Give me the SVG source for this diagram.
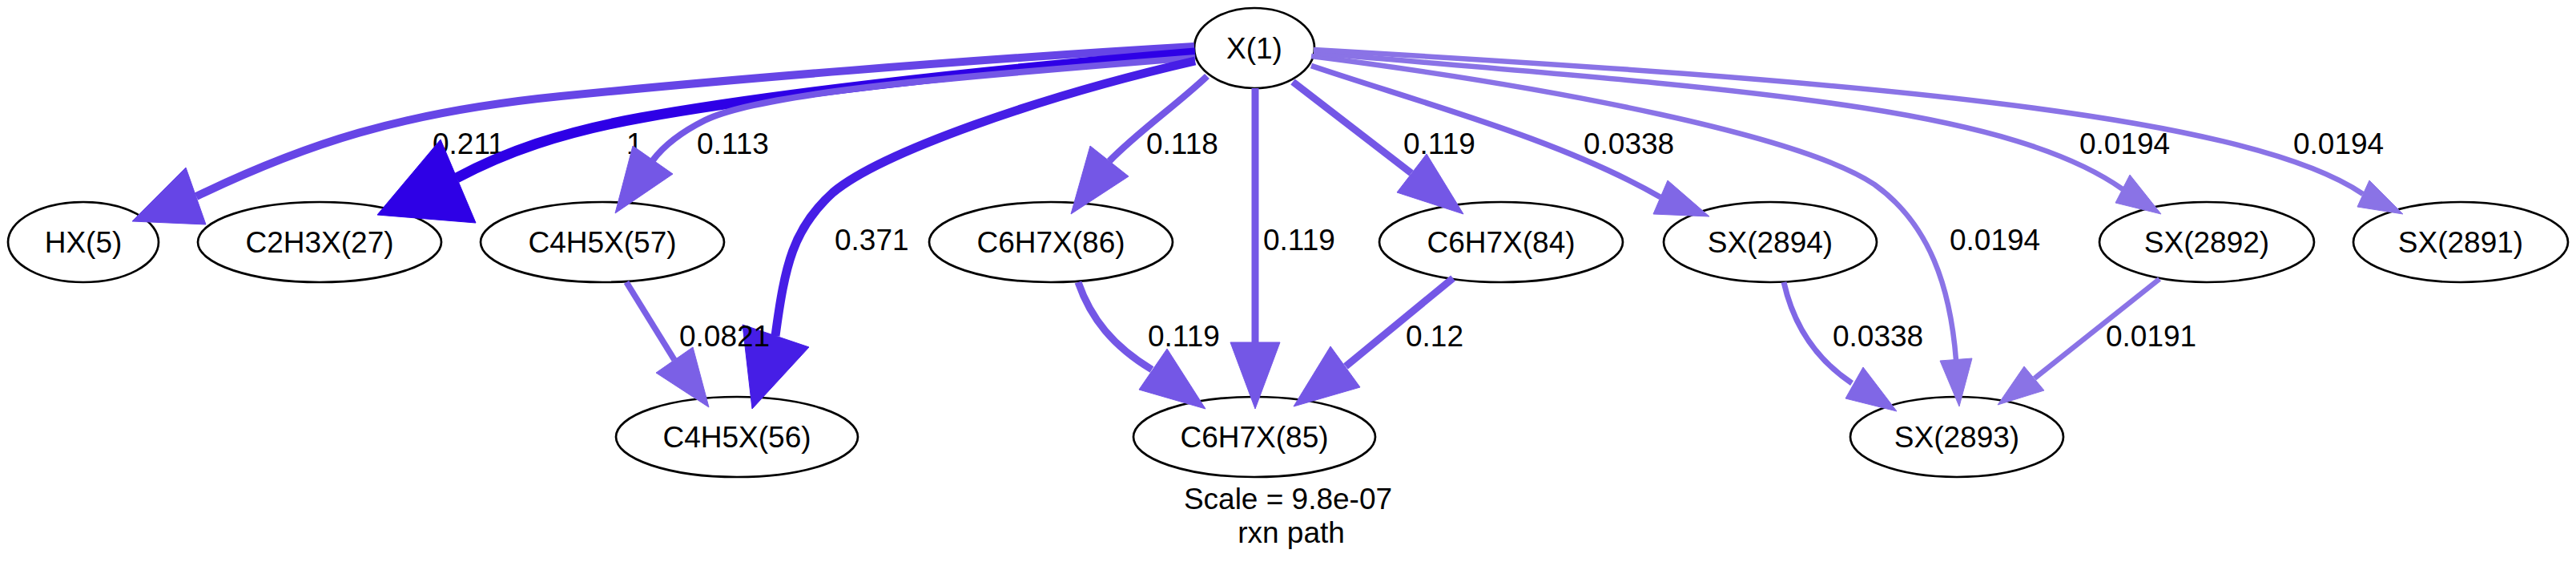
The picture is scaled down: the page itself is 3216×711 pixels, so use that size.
<svg xmlns="http://www.w3.org/2000/svg" width="3216" height="711" viewBox="0 0 3216 711">
<style>
.n ellipse{fill:#fff;stroke:#000;stroke-width:2.7}
.n text{font-family:"Liberation Sans",Arial,sans-serif;font-size:37px;text-anchor:middle;fill:#000}
.e path{fill:none;stroke-linecap:butt}
.lbl{font-family:"Liberation Sans",Arial,sans-serif;font-size:37px;fill:#000}
.ttl{font-family:"Liberation Sans",Arial,sans-serif;font-size:37px;fill:#000;text-anchor:middle}
.c1{stroke:#2e00e6;fill:#2e00e6}
.c371{stroke:#461ee6;fill:#461ee6}
.c211{stroke:#6645e6;fill:#6645e6}
.c11{stroke:#7457e6;fill:#7457e6}
.c08{stroke:#7b60e6;fill:#7b60e6}
.c03{stroke:#8067e6;fill:#8067e6}
.c019{stroke:#8a73e6;fill:#8a73e6}
polygon{stroke:none}
</style>
<rect width="3216" height="711" fill="#fff"/>
<g id="nodes">
<g id="X1" class="n"><ellipse cx="1566" cy="60" rx="75" ry="50"/><text x="1566" y="73">X(1)</text></g>
<g id="HX5" class="n"><ellipse cx="104" cy="302" rx="94" ry="50"/><text x="104" y="315">HX(5)</text></g>
<g id="C2H3X27" class="n"><ellipse cx="399" cy="302" rx="152" ry="50"/><text x="399" y="315">C2H3X(27)</text></g>
<g id="C4H5X57" class="n"><ellipse cx="752" cy="302" rx="152" ry="50"/><text x="752" y="315">C4H5X(57)</text></g>
<g id="C6H7X86" class="n"><ellipse cx="1312" cy="302" rx="152" ry="50"/><text x="1312" y="315">C6H7X(86)</text></g>
<g id="C6H7X84" class="n"><ellipse cx="1874" cy="302" rx="152" ry="50"/><text x="1874" y="315">C6H7X(84)</text></g>
<g id="SX2894" class="n"><ellipse cx="2210" cy="302" rx="133" ry="50"/><text x="2210" y="315">SX(2894)</text></g>
<g id="SX2892" class="n"><ellipse cx="2755" cy="302" rx="134" ry="50"/><text x="2755" y="315">SX(2892)</text></g>
<g id="SX2891" class="n"><ellipse cx="3072" cy="302" rx="134" ry="50"/><text x="3072" y="315">SX(2891)</text></g>
<g id="C4H5X56" class="n"><ellipse cx="920" cy="545" rx="151" ry="50"/><text x="920" y="558">C4H5X(56)</text></g>
<g id="C6H7X85" class="n"><ellipse cx="1566" cy="545" rx="151" ry="50"/><text x="1566" y="558">C6H7X(85)</text></g>
<g id="SX2893" class="n"><ellipse cx="2443" cy="545" rx="133" ry="50"/><text x="2443" y="558">SX(2893)</text></g>
</g>
<g id="connectors">
<g class="e"><path class="c211" stroke-width="10" d="M1491,58 C1200,75 900,100 700,120 C500,140 380,180 245,245"/><polygon class="c211" points="232,209 257,280 165,276"/><text class="lbl" x="540" y="192">0.211</text></g>
<g class="e"><path class="c1" stroke-width="13" d="M1492,66 C1200,90 950,120 800,147 C700,165 630,190 570,222"/><polygon class="c1" points="550,174 594,278 471,268"/><text class="lbl" x="782" y="192">1</text></g>
<g class="e"><path class="c11" stroke-width="8" d="M1492,72 C1200,95 950,115 880,150 C850,165 830,180 815,200"/><polygon class="c11" points="790,182 840,217 768,266"/><text class="lbl" x="870" y="192">0.113</text></g>
<g class="e"><path class="c371" stroke-width="11" d="M1492,76 C1300,120 1100,190 1040,240 C990,285 980,330 968,419"/><polygon class="c371" points="927,405 1010,433 939,510"/><text class="lbl" x="1042" y="312">0.371</text></g>
<g class="e"><path class="c11" stroke-width="8.5" d="M1507,95 C1470,130 1420,165 1385,201"/><polygon class="c11" points="1361,182 1409,220 1337,267"/><text class="lbl" x="1431" y="192">0.118</text></g>
<g class="e"><path class="c11" stroke-width="9" d="M1567,110 L1567,428"/><polygon class="c11" points="1536,427 1598,427 1567,510"/><text class="lbl" x="1577" y="312">0.119</text></g>
<g class="e"><path class="c11" stroke-width="9" d="M1614,102 L1762,216"/><polygon class="c11" points="1744,240 1781,192 1827,267"/><text class="lbl" x="1752" y="192">0.119</text></g>
<g class="e"><path class="c03" stroke-width="7" d="M1637,82 C1780,130 1950,175 2073,246"/><polygon class="c03" points="2082,225 2064,267 2134,270"/><text class="lbl" x="1977" y="192">0.0338</text></g>
<g class="e"><path class="c019" stroke-width="6.5" d="M1637,70 C1950,110 2250,170 2340,230 C2410,280 2435,360 2442,449"/><polygon class="c019" points="2422,450 2462,447 2446,507"/><text class="lbl" x="2434" y="312">0.0194</text></g>
<g class="e"><path class="c019" stroke-width="6.5" d="M1640,66 C2150,110 2500,130 2650,236"/><polygon class="c019" points="2659,218 2641,253 2698,267"/><text class="lbl" x="2596" y="192">0.0194</text></g>
<g class="e"><path class="c019" stroke-width="6.5" d="M1640,62 C2300,100 2800,140 2950,242"/><polygon class="c019" points="2958,225 2943,258 3000,267"/><text class="lbl" x="2863" y="192">0.0194</text></g>
<g class="e"><path class="c08" stroke-width="7.5" d="M782,352 L842,449"/><polygon class="c08" points="819,465 865,433 885,508"/><text class="lbl" x="848" y="432">0.0821</text></g>
<g class="e"><path class="c11" stroke-width="9" d="M1346,352 C1362,398 1390,432 1438,461"/><polygon class="c11" points="1422,486 1457,435 1505,510"/><text class="lbl" x="1433" y="432">0.119</text></g>
<g class="e"><path class="c11" stroke-width="9" d="M1814,347 L1680,457"/><polygon class="c11" points="1661,432 1698,483 1615,507"/><text class="lbl" x="1755" y="432">0.12</text></g>
<g class="e"><path class="c03" stroke-width="7" d="M2227,352 C2240,410 2270,450 2312,478"/><polygon class="c03" points="2326,458 2304,497 2368,513"/><text class="lbl" x="2288" y="432">0.0338</text></g>
<g class="e"><path class="c019" stroke-width="6.5" d="M2696,348 L2540,472"/><polygon class="c019" points="2527,457 2552,487 2494,505"/><text class="lbl" x="2629" y="432">0.0191</text></g>
</g>
<g id="title">
<text class="ttl" x="1608" y="635">Scale = 9.8e-07</text>
<text class="ttl" x="1612" y="677">rxn path</text>
</g>
</svg>
